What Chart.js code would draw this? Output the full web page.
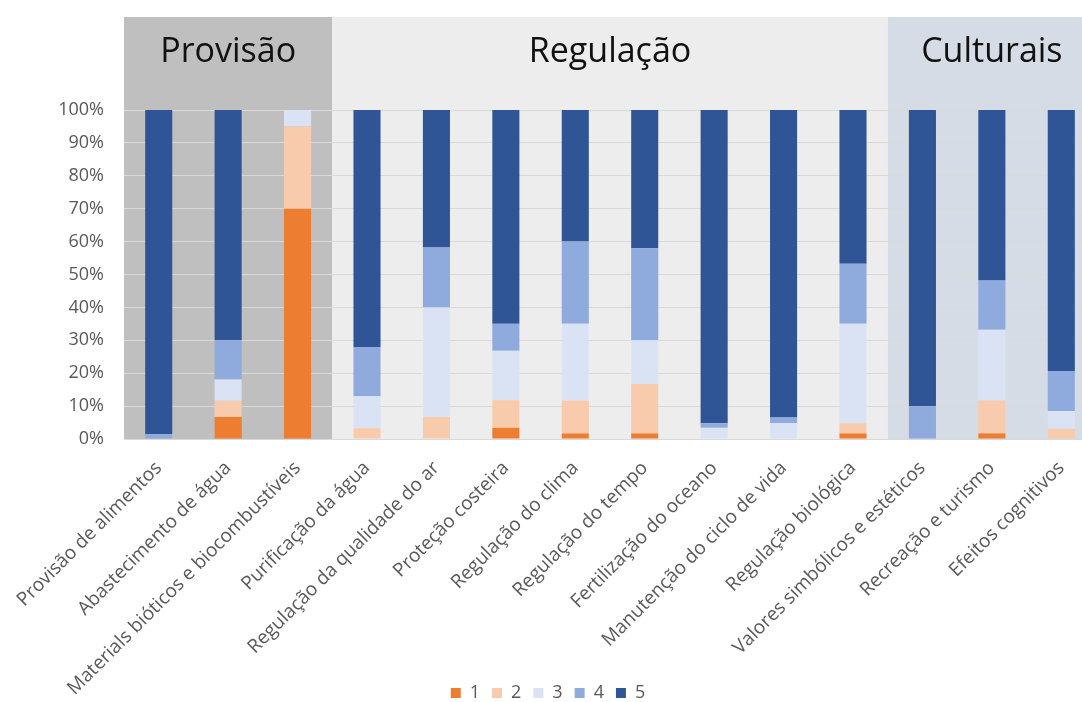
<!DOCTYPE html>
<html>
<head>
<meta charset="utf-8">
<script src="https://cdn.jsdelivr.net/npm/chart.js@4"></script>
<style>
  body { margin: 0; background: #fff; }
  #frame { width: 1082px; height: 702px; overflow: hidden; }
  #box { width: 1100px; height: 712px; }
</style>
</head>
<body>
<div id="frame"><div id="box"><canvas id="myChart"></canvas></div></div>
<script>
// services (x axis)
const services = [
    'Provisão de alimentos',
    'Abastecimento de água',
    'Materials bióticos e biocombustíveis',
    'Purificação da água',
    'Regulação da qualidade do ar',
    'Proteção costeira',
    'Regulação do clima',
    'Regulação do tempo',
    'Fertilização do oceano',
    'Manutenção do ciclo de vida',
    'Regulação biológica',
    'Valores simbólicos e estéticos',
    'Recreação e turismo',
    'Efeitos cognitivos'
];

// share of answers per score, in %
const score1 = [0, 6.7, 70, 0, 0, 3.4, 1.7, 1.7, 0, 0, 1.7, 0, 1.7, 0];
const score2 = [0, 4.9, 25, 3.3, 6.7, 8.4, 10, 15, 0, 0, 3.1, 0, 10, 3.1];
const score3 = [0, 6.5, 5, 9.7, 33.3, 15, 23.3, 13.3, 3.4, 4.8, 30.2, 0, 21.5, 5.4];
const score4 = [1.5, 11.9, 0, 15, 18.2, 8.2, 25, 28, 1.4, 1.7, 18.3, 10, 15, 12.2];
const score5 = [98.5, 70, 0, 72, 41.8, 65, 40, 42, 95.2, 93.5, 46.7, 90, 51.8, 79.3];

const scoreNames = ['1', '2', '3', '4', '5'];

// groups of services and how many columns each one spans
const groupNames = ['Provisão', 'Regulação', 'Culturais'];
const groupSizes = [3, 8, 3];
const groupColors = ['#bfbfbf', '#ededed', '#d6dce5'];

const yTicks = [0, 10, 20, 30, 40, 50, 60, 70, 80, 90, 100];

const scoreColors = ['#ed7d31', '#f8cbad', '#dae3f3', '#8faadc', '#2f5597'];

// shaded group panels with their titles behind the bars
const groupPanels = {
    id: 'groupPanels',
    afterLayout(chart) {
        // long rotated labels run down into the legend strip, don't clip them
        chart.scales.x.bottom = chart.height;
    },
    beforeDraw(chart) {
        const ctx = chart.ctx;
        const area = chart.chartArea;
        const x = chart.scales.x;
        let first = 0;
        ctx.save();
        groupNames.forEach(function(name, i) {
            const last = first + groupSizes[i] - 1;
            const left = i === 0 ? area.left :
                (x.getPixelForValue(first - 1) + x.getPixelForValue(first)) / 2;
            const right = i === groupNames.length - 1 ? area.right :
                (x.getPixelForValue(last) + x.getPixelForValue(last + 1)) / 2;
            ctx.fillStyle = groupColors[i];
            ctx.fillRect(left, 17, right - left, area.bottom - 17);
            ctx.fillStyle = '#111';
            ctx.font = '34px "Open Sans"';
            ctx.textAlign = 'center';
            ctx.textBaseline = 'alphabetic';
            ctx.fillText(name, (left + right) / 2, 62);
            first = last + 1;
        });
        ctx.restore();
    }
};

const allScores = [score1, score2, score3, score4, score5];

const data = {
    labels: services,
    datasets: allScores.map(function(values, i) {
        return {
            label: scoreNames[i],
            data: values,
            backgroundColor: scoreColors[i],
            borderWidth: 0
        };
    })
};

const config = {
    type: 'bar',
    data: data,
    plugins: [groupPanels],
    options: {
        responsive: true,
        maintainAspectRatio: false,
        animation: false,
        categoryPercentage: 1,
        barPercentage: 0.39,
        layout: {
            padding: { top: 110, right: 4, left: 0, bottom: 0 }
        },
        plugins: {
            legend: {
                position: 'bottom',
                labels: {
                    boxWidth: 10,
                    boxHeight: 10,
                    padding: 12,
                    color: '#595959',
                    font: { family: 'Open Sans', size: 18 }
                }
            },
            tooltip: { enabled: false }
        },
        scales: {
            x: {
                stacked: true,
                afterFit: function(scale) { scale.height = 233; },
                ticks: {
                    autoSkip: false,
                    minRotation: 45,
                    maxRotation: 45,
                    padding: 10,
                    color: '#595959',
                    font: { family: 'Open Sans', size: 19 }
                },
                grid: { display: false },
                border: { color: '#d9d9d9' }
            },
            y: {
                stacked: true,
                min: 0,
                max: 100,
                afterFit: function(scale) { scale.width = 124; },
                afterBuildTicks: function(scale) {
                    scale.ticks = yTicks.map(function(v) { return { value: v }; });
                },
                ticks: {
                    padding: 20,
                    color: '#595959',
                    font: { family: 'Open Sans', size: 18 },
                    callback: function(v) { return v + '%'; }
                },
                grid: { color: '#d9d9d9', drawTicks: false },
                border: { display: false }
            }
        }
    }
};

const myChart = new Chart(document.getElementById('myChart'), config);
</script>
</body>
</html>
